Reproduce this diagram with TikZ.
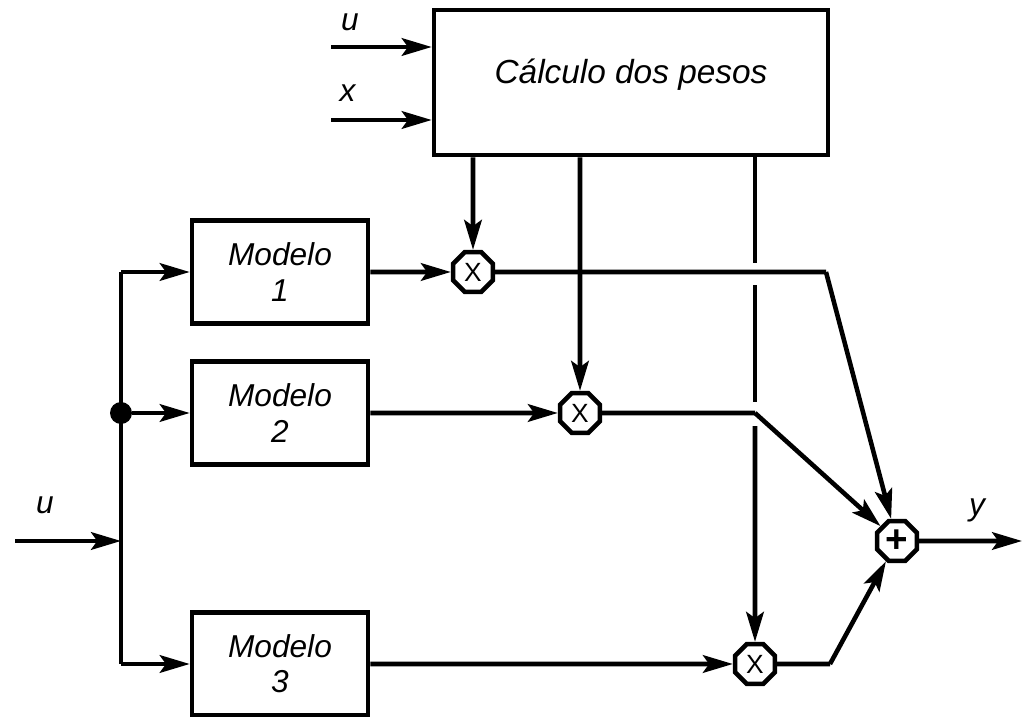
\documentclass[tikz,border=0pt]{standalone}
\usepackage{fontspec}
\setmainfont{Liberation Sans}
\usetikzlibrary{arrows.meta,shapes.geometric,positioning}

\begin{document}
\begin{tikzpicture}[
   every node/.style={font=\itshape\fontsize{18}{20}\selectfont},
   blk/.style={draw,line width=2.6pt,minimum width=3.52cm,minimum height=2.06cm,align=center},
   mult/.style={draw,fill=white,line width=2.6pt,regular polygon,regular polygon sides=8,
                minimum size=0.86cm,inner sep=0pt,font=\upshape\fontsize{15}{15}\selectfont},
   wire/.style={line width=2.6pt},
   sig/.style={wire,-{Stealth[length=17pt,width=10pt,inset=3.5pt]}},
   dot/.style={circle,fill,inner sep=0pt,minimum size=0.44cm}
  ]
   \useasboundingbox (0,0) rectangle (20.48,14.34);
   % weights block
   \node[draw,line width=2.6pt,minimum width=7.88cm,minimum height=2.9cm,text depth=0.45cm,
         font=\itshape\fontsize{19}{21}\selectfont] (calc) at (12.62,12.69) {C\'alculo dos pesos};
   \coordinate (inu) at (6.62,13.4);
   \coordinate (inx) at (6.62,11.94);
   \draw[sig] (inu) -- (inu -| calc.west);
   \draw[sig] (inx) -- (inx -| calc.west);
   \node (lu) at (7.0,13.9) {u};
   \node (lx) at (6.95,12.48) {x};
   % models
   \node[blk] (m1) at (5.6,8.9)  {Modelo\\1};
   \node[blk] (m2) at (5.6,6.08) {Modelo\\2};
   \node[blk] (m3) at (5.6,1.06) {Modelo\\3};
   \coordinate (b1) at (2.42,8.9);
   \coordinate (b3) at (2.42,1.06);
   \coordinate (bin) at (2.42,3.52);
   \coordinate (in) at (0.3,3.52);
   \node[dot] (j) at (2.42,6.08) {};
   \draw[wire] (b1) -- (b3);
   \draw[sig] (b1) -- (m1);
   \draw[sig] (j) -- (m2);
   \draw[sig] (b3) -- (m3);
   \draw[sig] (in) -- (bin);
   \node (lin) at (0.9,4.24) {u};
   % products and sum
   \node[mult] (x1) at (9.46,8.9)  {X};
   \node[mult] (x2) at (11.6,6.08) {X};
   \node[mult] (x3) at (15.1,1.06) {X};
   \node[mult,font=\bfseries\fontsize{22}{22}\selectfont] (sum) at (17.94,3.52) {+};
   \coordinate (c1) at (16.52,8.9);
   \coordinate (c2) at (15.1,6.08);
   \coordinate (c3) at (16.6,1.06);
   \coordinate (out) at (20.44,3.52);
   \draw[sig] (calc.south -| x1) -- (x1);
   \draw[sig] (calc.south -| x2) -- (x2);
   \draw[wire] (calc.south -| x3) -- ([yshift=5pt]c1 -| x3);
   \draw[wire] ([yshift=-7.5pt]c1 -| x3) -- ([yshift=6pt]c2);
   \draw[sig] ([yshift=-7.5pt]c2) -- (x3);
   \draw[sig] (m1) -- (x1);
   \draw[sig] (m2) -- (x2);
   \draw[sig] (m3) -- (x3);
   \draw[wire] (x1) -- (c1);
   \draw[wire] (x2) -- (c2);
   \draw[wire] (x3) -- (c3);
   \draw[sig] (c1) -- (sum);
   \draw[sig] (c2) -- (sum);
   \draw[sig] (c3) -- (sum);
   \draw[sig] (sum) -- (out);
   \node (ly) at (19.54,4.14) {y};
\end{tikzpicture}
\end{document}
